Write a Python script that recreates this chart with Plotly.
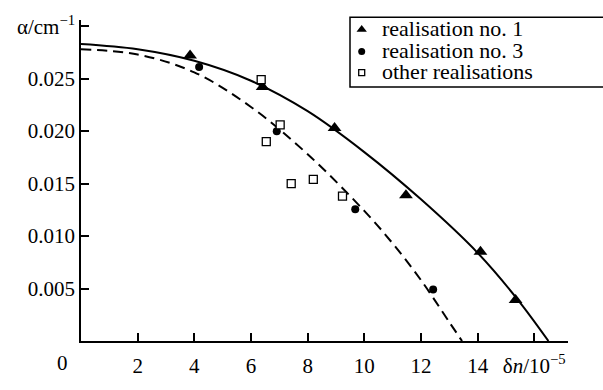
import plotly.graph_objects as go

# ---- measured absorption coefficient vs refractive-index change ----
tri_x = [3.85, 6.41, 8.95, 11.47, 14.1, 15.34]          # realisation no. 1
tri_y = [0.0272, 0.0242, 0.0203, 0.0139, 0.0085, 0.0039]
circ_x = [4.17, 6.91, 9.68, 12.43]                       # realisation no. 3
circ_y = [0.0261, 0.0200, 0.01255, 0.0049]
sq_x = [6.36, 7.03, 6.54, 7.42, 8.2, 9.23]              # other realisations
sq_y = [0.0249, 0.0206, 0.0190, 0.0150, 0.0154, 0.0138]

# fitted curves
fit1_x = [0, 2, 4, 6, 8, 10, 12, 14, 15.4, 16.5]
fit1_y = [0.0283, 0.0278, 0.0267, 0.0248, 0.0219, 0.0180, 0.0135, 0.0084, 0.0040, 0.0]
fit3_x = [0, 2, 4, 6, 8, 10, 11, 12, 13, 13.45]
fit3_y = [0.0278, 0.0273, 0.0256, 0.0223, 0.0178, 0.0124, 0.0093, 0.0058, 0.0018, 0.0]

x_tickvals = [2, 4, 6, 8, 10, 12, 14, 16]
x_ticktext = ["2", "4", "6", "8", "10", "12", "14", "δ<i>n</i>/10<sup>−5</sup>"]
y_tickvals = [0.005, 0.010, 0.015, 0.020, 0.025, 0.030]
y_ticktext = ["0.005", "0.010", "0.015", "0.020", "0.025", "α/cm<sup>−1</sup>"]

legend_names = ["realisation no. 1", "realisation no. 3", "other realisations"]

W, H = 603, 390
ML, MR, MT, MB = 81, 35, 14, 40
FONT = "Liberation Serif"


def px_x(px):
    return (px - ML) / (W - ML - MR)


def px_y(py):
    return (H - MB - py) / (H - MT - MB)


fig = go.Figure()

fig.add_trace(go.Scatter(x=fit1_x, y=fit1_y, mode="lines", line=dict(color="black", width=2, shape="spline"),
                         showlegend=False, hoverinfo="skip"))
fig.add_trace(go.Scatter(x=fit3_x, y=fit3_y, mode="lines",
                         line=dict(color="black", width=2, shape="spline", dash="10px,6px"),
                         showlegend=False, hoverinfo="skip"))

fig.add_trace(go.Scatter(x=tri_x, y=tri_y, mode="markers", name=legend_names[0],
                         marker=dict(symbol="triangle-up", size=12, color="black"), showlegend=False))
fig.add_trace(go.Scatter(x=circ_x, y=circ_y, mode="markers", name=legend_names[1],
                         marker=dict(symbol="circle", size=8, color="black"), showlegend=False))
fig.add_trace(go.Scatter(x=sq_x, y=sq_y, mode="markers", name=legend_names[2],
                         marker=dict(symbol="square", size=8, color="white", line=dict(color="black", width=1.3)),
                         showlegend=False))

# legend key, drawn on a hidden overlay axis in paper units
key_x = px_x(361.7)
key_rows = [24, 47, 69]
key_styles = [
    dict(symbol="triangle-up", size=9, color="black"),
    dict(symbol="circle", size=7, color="black"),
    dict(symbol="square", size=6, color="white", line=dict(color="black", width=1.3)),
]
for row, style in zip(key_rows, key_styles):
    fig.add_trace(go.Scatter(x=[key_x], y=[px_y(row)], mode="markers", marker=style,
                             xaxis="x2", yaxis="y2", showlegend=False, hoverinfo="skip", cliponaxis=False))

annotations = []
for row, name in zip(key_rows, legend_names):
    annotations.append(dict(x=px_x(380), y=px_y(row - 1), xref="paper", yref="paper", text=name,
                            showarrow=False, xanchor="left", yanchor="middle",
                            font=dict(family=FONT, size=22, color="black")))
annotations.append(dict(x=px_x(62.7), y=px_y(373), xref="paper", yref="paper", text="0",
                        showarrow=False, xanchor="center", yanchor="middle",
                        font=dict(family=FONT, size=21, color="black")))

fig.update_layout(
    width=W, height=H,
    margin=dict(l=ML, r=MR, t=MT, b=MB, pad=0),
    paper_bgcolor="white", plot_bgcolor="white",
    font=dict(family=FONT, size=21, color="black"),
    xaxis=dict(range=[0, 17.19], showgrid=False, zeroline=False, showline=True, linecolor="black", linewidth=1.5,
               ticks="inside", ticklen=8, tickwidth=1.5, tickcolor="black", ticklabelstandoff=5,
               tickvals=x_tickvals, ticktext=x_ticktext),
    yaxis=dict(range=[0, 0.03059], showgrid=False, zeroline=False, showline=True, linecolor="black", linewidth=1.5,
               ticks="inside", ticklen=8, tickwidth=1.5, tickcolor="black",
               tickvals=y_tickvals, ticktext=y_ticktext),
    xaxis2=dict(range=[0, 1], overlaying="x", visible=False),
    yaxis2=dict(range=[0, 1], overlaying="y", visible=False),
    annotations=annotations,
    shapes=[dict(type="rect", xref="paper", yref="paper", x0=px_x(350), x1=px_x(608), y0=px_y(84), y1=px_y(11),
                 line=dict(color="black", width=1.5), fillcolor="rgba(0,0,0,0)", layer="above")],
    showlegend=False,
)

fig.write_html("out.html")
